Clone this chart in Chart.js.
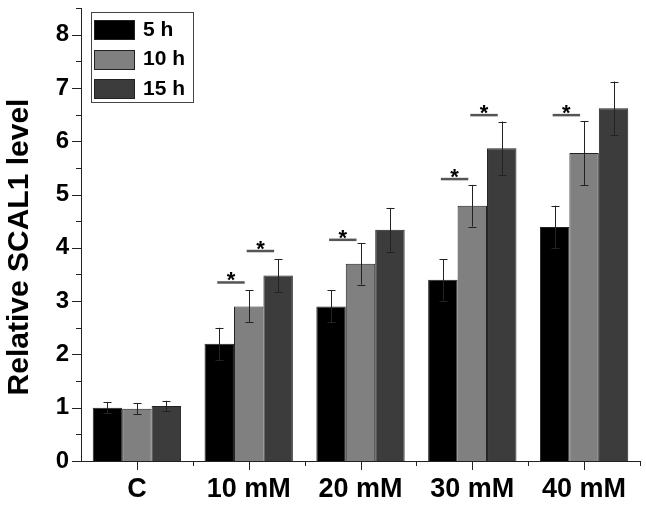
<!DOCTYPE html>
<html>
<head>
<meta charset="utf-8">
<script src="https://cdn.jsdelivr.net/npm/chart.js@4"></script>
<style>
  html, body { margin: 0; padding: 0; background: #fff; }
  #wrap { width: 646px; height: 507px; position: relative; }
</style>
</head>
<body>
<div id="wrap"><canvas id="scalChart"></canvas></div>
<script>
const categories = ['C', '10 mM', '20 mM', '30 mM', '40 mM'];
const seriesLabels = ['5 h', '10 h', '15 h'];
const values5h = [1.0, 2.2, 2.9, 3.4, 4.39];
const values10h = [0.98, 2.9, 3.7, 4.79, 5.78];
const values15h = [1.03, 3.48, 4.34, 5.87, 6.62];
const err5h = [0.1, 0.3, 0.3, 0.39, 0.4];
const err10h = [0.1, 0.3, 0.39, 0.39, 0.6];
const err15h = [0.1, 0.31, 0.41, 0.5, 0.5];

// significance marks: category, first bar, second bar, height of the line
const sigCategory = [1, 1, 2, 3, 3, 4];
const sigFrom = [0, 1, 0, 0, 1, 0];
const sigTo = [1, 2, 1, 1, 2, 1];
const sigLevel = [3.35, 3.94, 4.15, 5.29, 6.49, 6.49];

const barColors = ['#000000', '#808080', '#3c3c3c'];
const FONT = "'Liberation Sans', Arial, sans-serif";

const errorBars = {
    id: 'errorBars',
    afterDatasetsDraw(chart) {
        const ctx = chart.ctx, y = chart.scales.y;
        ctx.save();
        ctx.strokeStyle = '#222';
        ctx.lineWidth = 1;
        chart.data.datasets.forEach((ds, di) => {
            const meta = chart.getDatasetMeta(di);
            meta.data.forEach((bar, i) => {
                const top = y.getPixelForValue(ds.data[i] + ds.errors[i]);
                const bot = y.getPixelForValue(ds.data[i] - ds.errors[i]);
                const x = Math.round(bar.x) + 0.5;
                ctx.beginPath();
                ctx.moveTo(x, top); ctx.lineTo(x, bot);
                ctx.moveTo(x - 4, Math.round(top) + 0.5); ctx.lineTo(x + 4, Math.round(top) + 0.5);
                ctx.moveTo(x - 4, Math.round(bot) + 0.5); ctx.lineTo(x + 4, Math.round(bot) + 0.5);
                ctx.stroke();
            });
        });
        ctx.restore();
    }
};

const sigMarks = {
    id: 'sigMarks',
    afterDatasetsDraw(chart) {
        const ctx = chart.ctx, y = chart.scales.y;
        ctx.save();
        sigCategory.forEach((c, k) => {
            const x1 = chart.getDatasetMeta(sigFrom[k]).data[c].x - 2;
            const x2 = chart.getDatasetMeta(sigTo[k]).data[c].x - 4;
            const py = y.getPixelForValue(sigLevel[k]);
            ctx.strokeStyle = '#555';
            ctx.lineWidth = 2.5;
            ctx.beginPath();
            ctx.moveTo(x1, py); ctx.lineTo(x2, py);
            ctx.stroke();
            ctx.fillStyle = '#000';
            ctx.font = 'bold 22px ' + FONT;
            ctx.textAlign = 'center';
            ctx.textBaseline = 'alphabetic';
            ctx.fillText('*', (x1 + x2) / 2, py + 5);
        });
        ctx.restore();
    }
};

const axisTicks = {
    id: 'axisTicks',
    afterDraw(chart) {
        const ctx = chart.ctx, x = chart.scales.x, y = chart.scales.y, area = chart.chartArea;
        ctx.save();
        ctx.strokeStyle = '#222';
        ctx.lineWidth = 1;
        ctx.beginPath();
        y.ticks.forEach(t => {
            const py = Math.round(y.getPixelForValue(t.value)) + 0.5;
            const len = Number.isInteger(t.value) ? 9 : 5;
            ctx.moveTo(area.left - len, py); ctx.lineTo(area.left, py);
        });
        const step = (area.right - area.left) / categories.length;
        categories.forEach((c, i) => {
            const px = Math.round(x.getPixelForValue(i)) + 0.5;
            ctx.moveTo(px, area.bottom); ctx.lineTo(px, area.bottom + 9);
        });
        for (let i = 1; i <= categories.length; i++) {
            const px = Math.round(area.left + step * i) + 0.5;
            ctx.moveTo(px, area.bottom); ctx.lineTo(px, area.bottom + 5);
        }
        ctx.stroke();
        ctx.restore();
    }
};

const boxLegend = {
    id: 'boxLegend',
    afterDraw(chart) {
        const ctx = chart.ctx;
        ctx.save();
        ctx.fillStyle = '#fff';
        ctx.strokeStyle = '#444';
        ctx.lineWidth = 1;
        ctx.fillRect(91.5, 12.5, 102, 90);
        ctx.strokeRect(91.5, 12.5, 102, 90);
        ctx.font = 'bold 21px ' + FONT;
        ctx.textBaseline = 'middle';
        ctx.textAlign = 'left';
        chart.data.datasets.forEach((ds, i) => {
            const top = 20 + i * 29.5;
            ctx.fillStyle = ds.backgroundColor;
            ctx.strokeStyle = '#222';
            ctx.fillRect(94.5, Math.round(top) + 0.5, 40, 19);
            ctx.strokeRect(94.5, Math.round(top) + 0.5, 40, 19);
            ctx.fillStyle = '#000';
            ctx.fillText(ds.label, 143, top + 10);
        });
        ctx.restore();
    }
};

const datasets = [values5h, values10h, values15h].map((vals, i) => ({
    label: seriesLabels[i],
    data: vals,
    errors: [err5h, err10h, err15h][i],
    backgroundColor: barColors[i],
    borderColor: '#222',
    borderWidth: 1,
    categoryPercentage: 0.79,
    barPercentage: 1.0
}));

new Chart(document.getElementById('scalChart'), {
    type: 'bar',
    data: { labels: categories, datasets: datasets },
    plugins: [errorBars, sigMarks, axisTicks, boxLegend],
    options: {
        responsive: true,
        maintainAspectRatio: false,
        animation: false,
        devicePixelRatio: 1,
        layout: { padding: { top: 8, right: 6, left: 0, bottom: 0 } },
        plugins: { legend: { display: false }, tooltip: { enabled: false } },
        scales: {
            x: {
                grid: { display: false, drawTicks: false },
                border: { display: true, color: '#222', width: 1 },
                ticks: { color: '#000', font: { family: FONT, size: 27, weight: 'bold' }, padding: 12, maxRotation: 0, autoSkip: false },
                afterFit(scale) { scale.height = 46; scale.paddingLeft = 0; scale.paddingRight = 0; }
            },
            y: {
                min: 0,
                max: 8.5,
                grid: { display: false, drawTicks: false },
                border: { display: true, color: '#222', width: 1 },
                ticks: {
                    stepSize: 0.5,
                    autoSkip: false,
                    color: '#000',
                    padding: 12,
                    font: { family: FONT, size: 24, weight: 'bold' },
                    callback: v => Number.isInteger(v) ? v : ''
                },
                title: {
                    display: true,
                    text: 'Relative SCAL1 level   ',
                    color: '#000',
                    font: { family: FONT, size: 30, weight: 'bold' },
                    padding: { top: 2, bottom: 0 }
                },
                afterFit(scale) { scale.width = 81; scale.paddingTop = 0; scale.paddingBottom = 0; }
            }
        }
    }
});
</script>
</body>
</html>
